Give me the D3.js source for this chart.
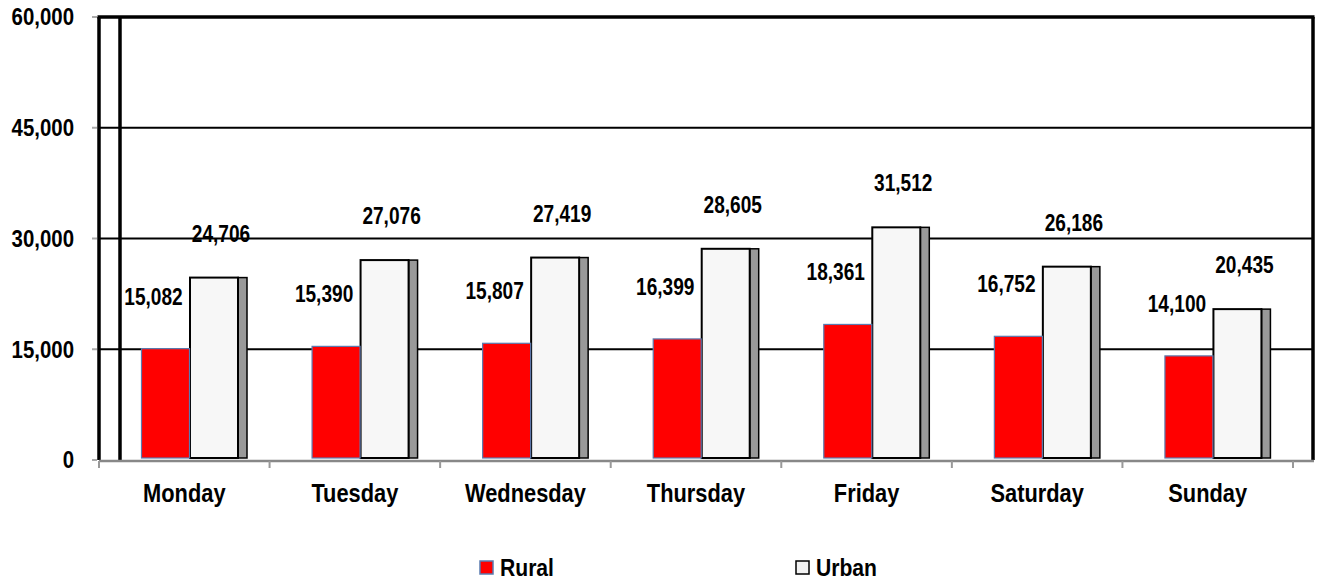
<!DOCTYPE html>
<html>
<head>
<meta charset="utf-8">
<style>
  body { margin: 0; background: #fff; }
  svg text { font-family: "Liberation Sans Narrow", "Arial Narrow", "Liberation Sans", Arial, sans-serif; font-weight: bold; fill: #000; }
</style>
</head>
<body>
<svg id="chart" width="1317" height="582"></svg>
<script src="https://d3js.org/d3.v7.min.js"></script>
<script>

var days = ["Monday", "Tuesday", "Wednesday", "Thursday", "Friday", "Saturday", "Sunday"];
var rural = [15082, 15390, 15807, 16399, 18361, 16752, 14100];
var urban = [24706, 27076, 27419, 28605, 31512, 26186, 20435];
var yTicks = [0, 15000, 30000, 45000, 60000];
var seriesNames = ["Rural", "Urban"];

var svg = d3.select("#chart");

var pLeft = 99, pRight = 1313, pTop = 17, pBottom = 460;

var x = d3.scaleBand().domain(days).range([pLeft, 1293]).padding(0);
var y = d3.scaleLinear().domain([0, 60000]).range([pBottom, pTop]);
var fmt = d3.format(",");

var barW = 48, depth = 9;

// condensed bold text (the reference uses a narrow face)
function label(parent, tx, ty, str, size, anchor, sx) {
  return parent.append("text")
    .attr("transform", "translate(" + tx + "," + ty + ") scale(" + sx + ",1)")
    .attr("dy", "0.35em")
    .attr("text-anchor", anchor)
    .style("font-size", size + "px")
    .text(str);
}

// gridlines
svg.append("g").selectAll("line")
  .data(yTicks.filter(function (d) { return d > 0 && d < 60000; }))
  .enter().append("line")
    .attr("x1", pLeft).attr("x2", pRight)
    .attr("y1", function (d) { return y(d); })
    .attr("y2", function (d) { return y(d); })
    .attr("stroke", "#000").attr("stroke-width", 2);

// y ticks + labels
var yg = svg.append("g");
yg.selectAll("line").data(yTicks).enter().append("line")
  .attr("x1", 92).attr("x2", 97)
  .attr("y1", function (d) { return y(d); })
  .attr("y2", function (d) { return y(d); })
  .attr("stroke", "#aaa").attr("stroke-width", 2);
yTicks.forEach(function (d) {
  label(yg, 74, y(d), fmt(d), 24, "end", 0.85);
});

// bars
var g = svg.append("g");
days.forEach(function (day, i) {
  var x0 = x(day);
  var rx = x0 + 42.5, ux = x0 + 91;

  // urban side face
  g.append("rect")
    .attr("x", ux + barW).attr("y", y(urban[i]))
    .attr("width", depth).attr("height", pBottom - 2 - y(urban[i]))
    .attr("fill", "#999").attr("stroke", "#000").attr("stroke-width", 1.5);
  // urban front
  g.append("rect")
    .attr("x", ux).attr("y", y(urban[i]))
    .attr("width", barW).attr("height", pBottom - 2 - y(urban[i]))
    .attr("fill", "#f7f7f7").attr("stroke", "#000").attr("stroke-width", 2);
  // rural
  g.append("rect")
    .attr("x", rx).attr("y", y(rural[i]))
    .attr("width", barW).attr("height", pBottom - 2 - y(rural[i]))
    .attr("fill", "#ff0000").attr("stroke", "#5a7bb0").attr("stroke-width", 1.2);

  label(g, rx + barW / 2 - 12, y(rural[i]) - 52, fmt(rural[i]), 23, "middle", 0.83);
  label(g, ux + barW / 2 + 7, y(urban[i]) - 44, fmt(urban[i]), 23, "middle", 0.83);
});

// frame
svg.append("line").attr("x1", pLeft - 1.5).attr("x2", pRight + 1.5).attr("y1", pTop).attr("y2", pTop)
  .attr("stroke", "#000").attr("stroke-width", 3.5);
svg.append("line").attr("x1", pLeft).attr("x2", pLeft).attr("y1", pTop).attr("y2", pBottom)
  .attr("stroke", "#000").attr("stroke-width", 3.5);
svg.append("line").attr("x1", 120).attr("x2", 120).attr("y1", pTop).attr("y2", pBottom)
  .attr("stroke", "#000").attr("stroke-width", 3.5);
svg.append("line").attr("x1", pRight).attr("x2", pRight).attr("y1", pTop).attr("y2", pBottom)
  .attr("stroke", "#000").attr("stroke-width", 3.5);

// x axis
svg.append("line").attr("x1", pLeft).attr("x2", pRight + 1).attr("y1", pBottom + 1).attr("y2", pBottom + 1)
  .attr("stroke", "#888").attr("stroke-width", 2.5);
var bounds = days.map(function (d) { return x(d); }).concat([x.range()[1]]);
svg.append("g").selectAll("line").data(bounds).enter().append("line")
  .attr("x1", function (d) { return d; }).attr("x2", function (d) { return d; })
  .attr("y1", pBottom + 1).attr("y2", pBottom + 8)
  .attr("stroke", "#999").attr("stroke-width", 2);
var xg = svg.append("g");
days.forEach(function (d) {
  label(xg, x(d) + x.bandwidth() / 2, 493, d, 26, "middle", 0.84);
});

// legend
var legendX = [480, 796];
var legendFill = ["#ff0000", "#f2f2f2"];
var legendStroke = ["#5a7bb0", "#000"];
var lg = svg.append("g");
seriesNames.forEach(function (name, i) {
  lg.append("rect").attr("x", legendX[i]).attr("y", 561).attr("width", 13).attr("height", 13)
    .attr("fill", legendFill[i]).attr("stroke", legendStroke[i]).attr("stroke-width", 1.5);
  label(lg, legendX[i] + 20, 568, name, 24, "start", 0.88);
});

</script>
</body>
</html>
